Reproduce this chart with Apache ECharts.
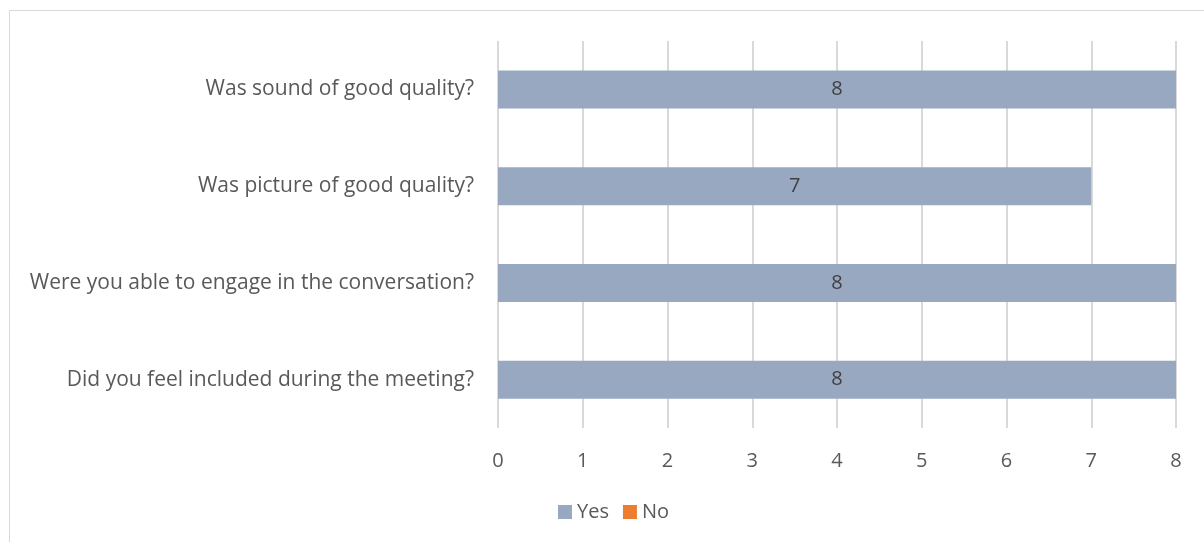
<!DOCTYPE html>
<html>
<head>
<meta charset="utf-8">
<script src="https://cdn.jsdelivr.net/npm/echarts@6/dist/echarts.min.js"></script>
<style>
html,body{margin:0;padding:0;background:#fff}
#main{width:1204px;height:542px}
</style>
</head>
<body>
<div id="main"></div>
<script>
// questions, bottom to top as the axis draws them
var questions = [
	'Did you feel included during the meeting?',
	'Were you able to engage in the conversation?',
	'Was picture of good quality?',
	'Was sound of good quality?'
]
var yesData = [8, 8, 7, 8]
var noData = [0, 0, 0, 0]
var xTicks = [0, 1, 2, 3, 4, 5, 6, 7, 8]

var txt = '#595959'
var font = 'Open Sans'

var chart = echarts.init(document.getElementById('main'))
var option = {
	animation: false,
	textStyle: { fontFamily: font },
	graphic: [{
		type: 'rect',
		shape: { x: 9.5, y: 10.5, width: 1210, height: 560 },
		style: { fill: 'none', stroke: '#d9d9d9', lineWidth: 1 },
		silent: true
	}],
	grid: { left: 498, right: 28, top: 41, bottom: 114, containLabel: false },
	legend: {
		bottom: 15,
		left: 553,
		itemWidth: 14,
		itemHeight: 14,
		itemGap: 14,
		icon: 'rect',
		textStyle: { color: txt, fontSize: 20, fontFamily: font },
		data: ['Yes', 'No']
	},
	xAxis: {
		type: 'value',
		min: xTicks[0],
		max: xTicks[xTicks.length - 1],
		interval: 1,
		axisLine: { show: false },
		axisTick: { show: false },
		axisLabel: { color: txt, fontSize: 20, margin: 23 },
		splitLine: { lineStyle: { color: '#d9d9d9', width: 2 } }
	},
	yAxis: {
		type: 'category',
		data: questions,
		axisLine: { show: false },
		axisTick: { show: false },
		axisLabel: { color: txt, fontSize: 21, margin: 24 }
	},
	series: [{
		name: 'Yes',
		type: 'bar',
		stack: 'a',
		barWidth: 38,
		data: yesData,
		itemStyle: { color: '#98a8c0' },
		label: { show: true, position: 'inside', color: '#404040', fontSize: 20 }
	}, {
		name: 'No',
		type: 'bar',
		stack: 'a',
		barWidth: 38,
		data: noData,
		itemStyle: { color: '#ed7d31' },
		label: { show: false }
	}]
}
chart.setOption(option)
</script>
</body>
</html>
